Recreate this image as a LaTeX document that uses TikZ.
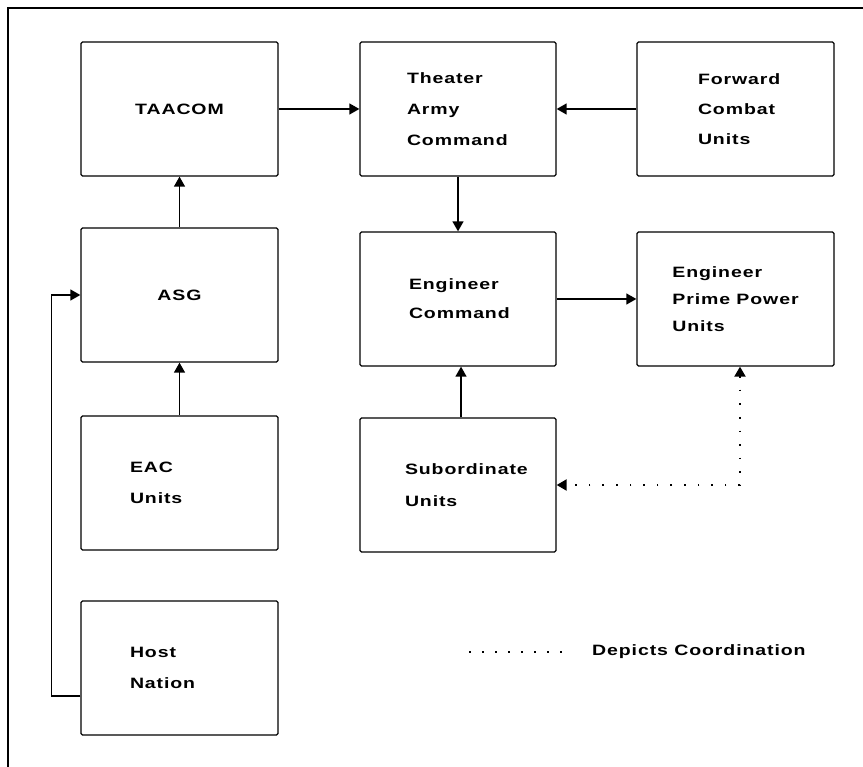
\documentclass[tikz,border=0pt]{standalone}
\usepackage{fontspec}
\usetikzlibrary{arrows.meta,calc}
\newfontfamily\lbl{Liberation Sans}[FakeStretch=1.3,LetterSpace=6]

\tikzset{
  unitbox/.style={draw, line width=1.3pt, rounded corners=1.5pt,
    minimum height=134pt, inner ysep=0pt, align=left,
    font=\lbl\bfseries\fontsize{15}{31}\selectfont},
  flow/.style={line width=1.4pt, -{Triangle[length=10pt,width=11pt]}},
  coord/.style={line width=2pt, dash pattern=on 1.6pt off 12pt},
  coordtips/.style={coord, {Triangle[length=10pt,width=11pt]}-{Triangle[length=10pt,width=11pt]}}
}

\begin{document}
\begin{tikzpicture}[x=1pt,y=-1pt]
\useasboundingbox (0,0) rectangle (863,767);

% outer frame, open at right and bottom
\coordinate (frTR) at (863,8);
\coordinate (frTL) at (8,8);
\coordinate (frBL) at (8,767);
\draw[line width=2pt] (frTR) -- (frTL) -- (frBL);

% left column
\node[unitbox, minimum width=197pt, align=center] (taacom) at (179.5,109) {TAACOM};
\node[unitbox, minimum width=197pt, align=center] (asg) at (179.5,295) {ASG};
\node[unitbox, inner xsep=49pt, text width=99pt] (eac) at (179.5,483) {EAC\\Units};
\node[unitbox, inner xsep=49pt, text width=99pt] (host) at (179.5,668) {Host\\Nation};

% middle column
\node[unitbox, inner xsep=47pt, text width=102pt] (thr) at (458,109) {Theater\\Army\\Command};
\node[unitbox, inner xsep=49pt, text width=98pt, font=\lbl\bfseries\fontsize{15}{29}\selectfont] (eng) at (458,299) {Engineer\\Command};
\node[unitbox, inner xsep=45pt, text width=106pt, font=\lbl\bfseries\fontsize{15}{32}\selectfont] (sub) at (458,485) {Subordinate\\Units};

% right column
\node[unitbox, inner xsep=61pt, text width=75pt, font=\lbl\bfseries\fontsize{15}{30}\selectfont] (fwd) at (735.5,109) {Forward\\Combat\\Units};
\node[unitbox, minimum width=197pt, font=\lbl\bfseries\fontsize{15}{27}\selectfont] (epp) at (735.5,299) {Engineer\\Prime Power\\Units};

% command relationships
\draw[flow] (taacom.east) -- (thr.west);
\draw[flow] (fwd.west) -- (thr.east);
\draw[flow] (thr.south) -- (eng.north);
\draw[flow] (asg.north) -- (taacom.south);
\draw[flow] (eac.north) -- (asg.south);
\draw[flow] (eng.east) -- (epp.west);
\draw[flow] ($(sub.north)+(3,0)$) -- ($(eng.south)+(3,0)$);
\draw[flow] ($(host.west)+(0,28)$) -- ++(-29,0) |- (asg.west);

% coordination link
\draw[coordtips] ($(epp.south)+(4.5,0)$) |- (sub.east);

% legend
\coordinate (lgA) at (469,652);
\coordinate (lgB) at (565,652);
\draw[coord, dash pattern=on 1.6pt off 11.4pt] (lgA) -- (lgB);
\node[anchor=west, inner sep=0pt, font=\lbl\bfseries\fontsize{15}{18}\selectfont] (lgT) at (592,652) {Depicts Coordination};
\end{tikzpicture}
\end{document}
